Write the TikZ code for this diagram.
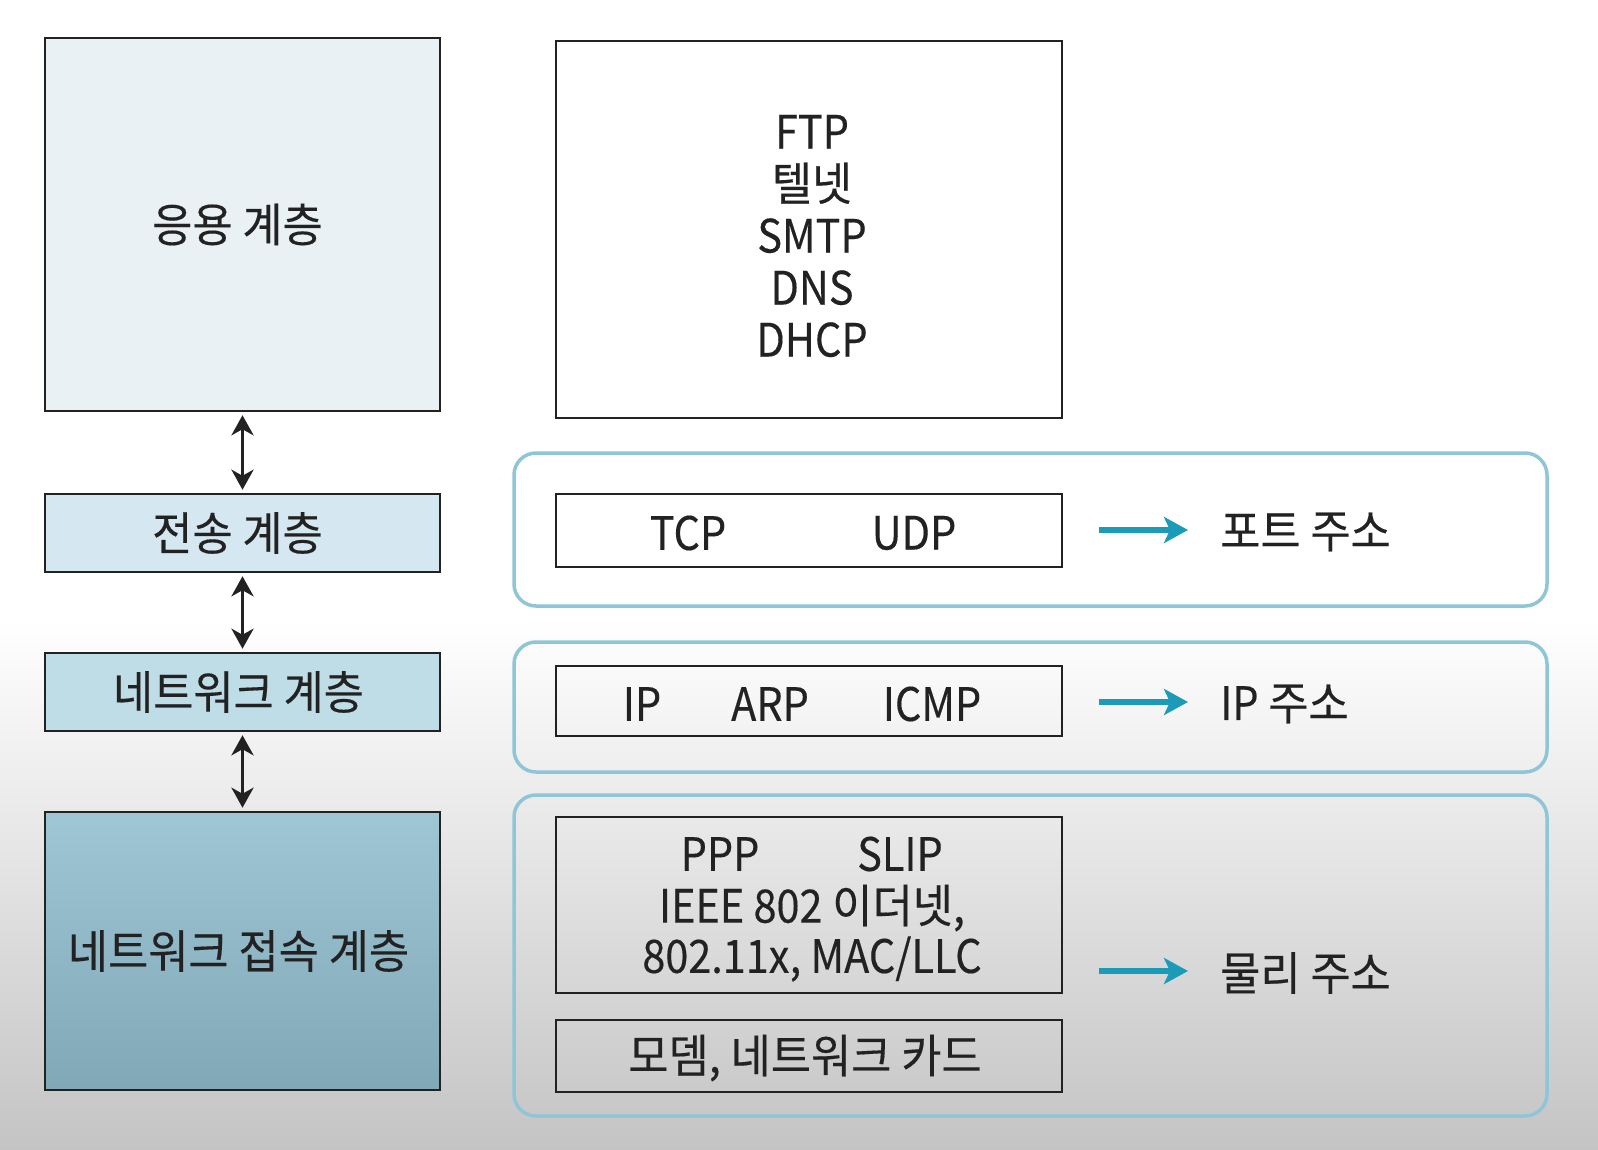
\documentclass[tikz,border=0pt]{standalone}
\usepackage{fontspec}
\setmainfont{Noto Sans CJK KR}[FakeStretch=0.95,FakeBold=0.3]
\newfontfamily\lat{Noto Sans CJK KR}[FakeStretch=0.9,FakeBold=0.3]
\usetikzlibrary{arrows.meta,positioning}
\usepackage{xcolor}
\definecolor{ink}{HTML}{222222}
\definecolor{appfill}{HTML}{E9F1F5}
\definecolor{tpfill}{HTML}{D5E7F0}
\definecolor{netfill}{HTML}{BFDDE7}
\definecolor{acctop}{HTML}{9FC6D5}
\definecolor{accbot}{HTML}{80A8B6}
\definecolor{frame}{HTML}{8FC6D7}
\definecolor{addrteal}{HTML}{1B9BB7}
\definecolor{bggray}{HTML}{C4C4C4}

\begin{document}
\begin{tikzpicture}[x=1pt,y=-1pt,font=\fontsize{46}{52}\selectfont,text=ink,
    latin/.style={font=\lat\fontsize{46}{52}\selectfont},
    layer/.style={draw=ink,line width=2.5pt,minimum width=395pt,inner sep=0pt},
    proto/.style={draw=ink,line width=2.5pt,minimum width=506pt,inner sep=0pt},
    group/.style={draw=frame,line width=3.5pt,rounded corners=22pt,minimum width=1033pt,inner sep=0pt},
    updown/.style={{Stealth[length=20pt,width=22pt,inset=6pt]}-{Stealth[length=20pt,width=22pt,inset=6pt]},draw=ink,line width=3.5pt,shorten <=3pt,shorten >=3pt},
    addr/.style={-{Stealth[length=24pt,width=26pt,inset=6pt]},draw=addrteal,line width=5.5pt,shorten >=28pt}]
    \useasboundingbox (0,0) rectangle (1598,1150);
    \fill[white] (0,0) rectangle (1598,620);
    \shade[top color=white,bottom color=bggray] (0,620) rectangle (1598,1150);

    % layers
    \node[layer,fill=appfill,minimum height=373pt] (app) at (242.5,224.5) {응용 계층\kern10pt};
    \node[layer,fill=tpfill,minimum height=78pt] (trans) at (242.5,533) {전송 계층\kern10pt};
    \node[layer,fill=netfill,minimum height=78pt] (net) at (242.5,692) {네트워크 계층\kern8pt};
    \node[layer,top color=acctop,bottom color=accbot,minimum height=278pt] (acc) at (242.5,951) {네트워크 접속 계층\kern8pt};
    \foreach \a/\b in {app/trans,trans/net,net/acc}
      \draw[updown] (\a.south) -- (\b.north);

    % groups
    \node[group,minimum height=153pt] (g1) at (1030.5,529.5) {};
    \node[group,minimum height=130pt] (g2) at (1030.5,707) {};
    \node[group,minimum height=321pt] (g3) at (1030.5,955.5) {};

    % protocols
    \node[proto,minimum height=377pt] (appbox) at (809,229.5) {};
    \node[align=center] (apps) at (812,236) {\lat FTP\\텔넷\\\lat SMTP\\\lat DNS\\\lat DHCP};
    \node[proto,minimum height=73pt] (tcpbox) at (809,530.5) {};
    \node[latin] (tcp) at (688,533) {TCP};
    \node[latin] (udp) at (914,533) {UDP};
    \node[proto,minimum height=70pt] (ipbox) at (809,701) {};
    \foreach \n/\t/\x in {ip/IP/642,arp/ARP/770,icmp/ICMP/932}
      \node[latin] (\n) at (\x,704) {\t};
    \node[proto,minimum height=176pt] (linkbox) at (809,905) {};
    \node[latin] (ppp) at (720,854) {PPP};
    \node[latin] (slip) at (900,854) {SLIP};
    \node (ieee) at (812,908) {{\lat IEEE 802} 이더넷,};
    \node[latin] (wlan) at (812,959) {802.11x, MAC/LLC};
    \node[proto,minimum height=72pt] (hw) at (809,1056) {};
    \node (card) at (805,1058) {모뎀, 네트워크 카드};

    % addresses
    \foreach \n/\t/\y in {port/포트 주소/532,ipaddr/{\lat IP} 주소/704,phys/물리 주소/973}{
      \node[anchor=west,inner sep=4pt] (\n) at (1216,\y) {\t};
      \coordinate (\n-from) at (1099,\y-2);
      \draw[addr] (\n-from) -- (\n-from -| \n.west);
    }
  \end{tikzpicture}
\end{document}
